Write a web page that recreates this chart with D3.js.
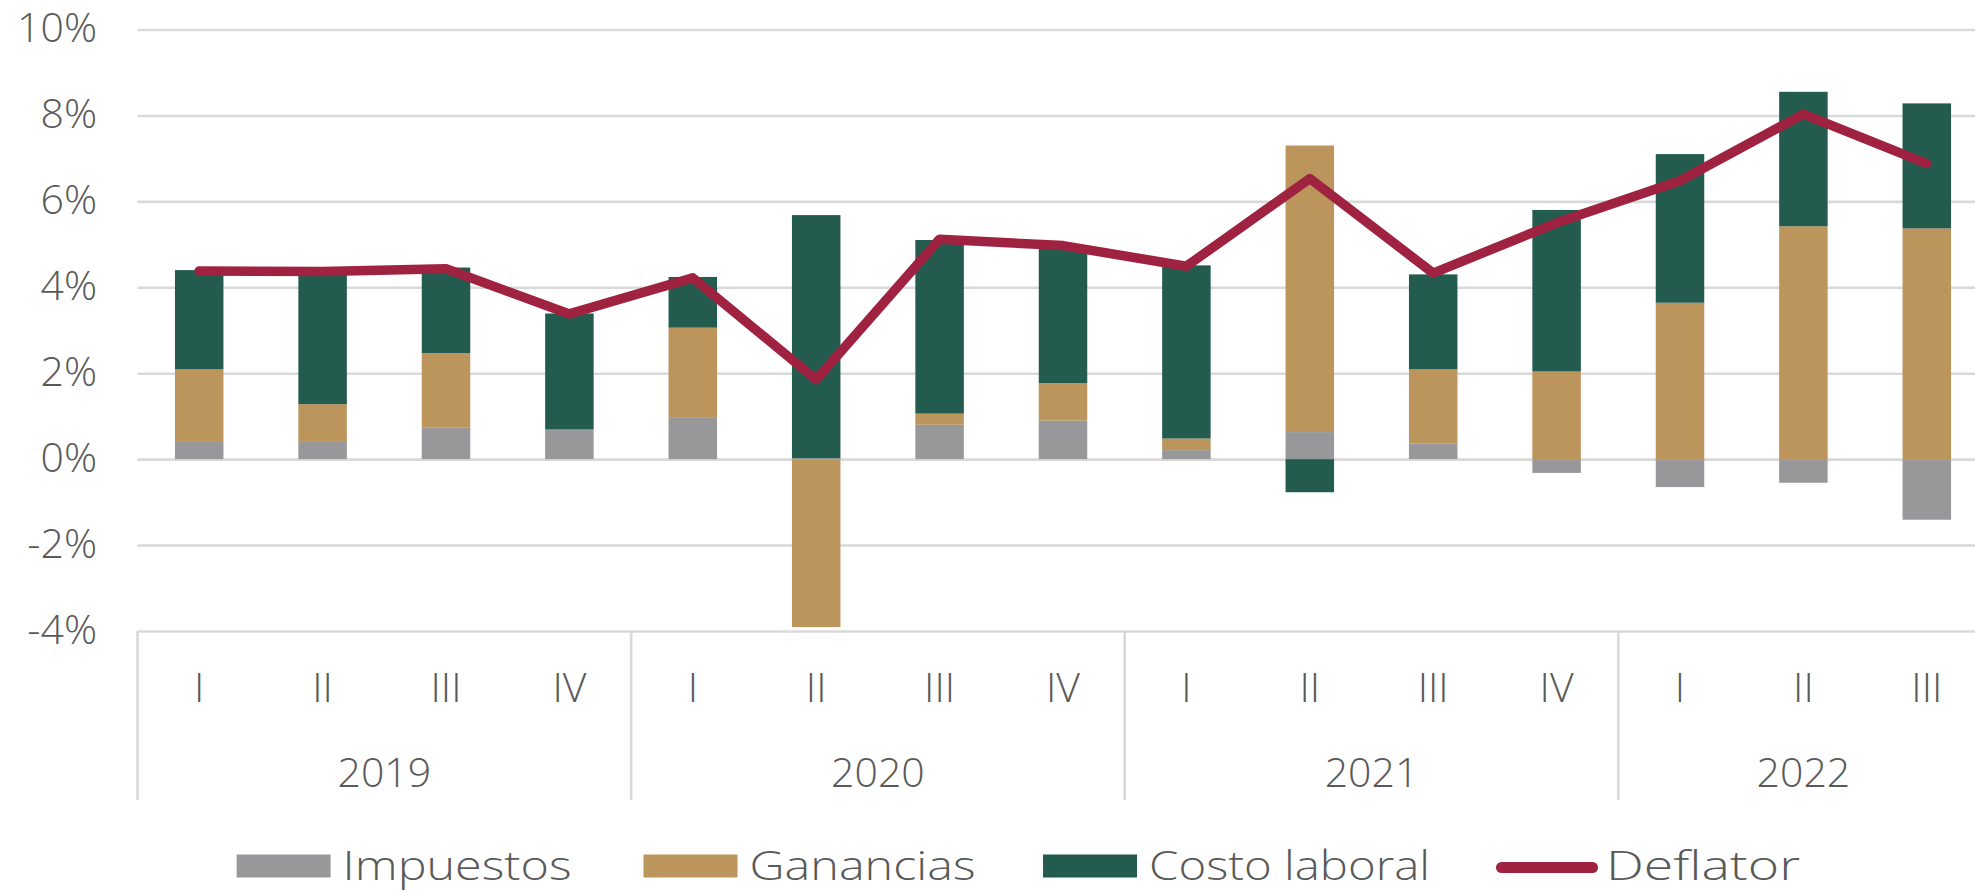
<!DOCTYPE html>
<html>
<head>
<meta charset="utf-8">
<script src="https://cdn.jsdelivr.net/npm/d3@7"></script>
<style>
  html, body { margin: 0; padding: 0; background: #fff; }
  svg text { font-family: "Open Sans", "Noto Sans", sans-serif; font-weight: 300; fill: #595959; }
</style>
</head>
<body>
<svg id="chart" width="1975" height="891"></svg>
<script>
// Quarterly contributions to the GDP deflator (percentage points)
const years = ["2019", "2020", "2021", "2022"];
const quarterLabels = ["I", "II", "III", "IV", "I", "II", "III", "IV", "I", "II", "III", "IV", "I", "II", "III"];
const quarterYear = ["2019", "2019", "2019", "2019", "2020", "2020", "2020", "2020", "2021", "2021", "2021", "2021", "2022", "2022", "2022"];
const impuestos    = [0.42, 0.42, 0.74, 0.69, 0.96, 0.02, 0.80, 0.90, 0.21, 0.63, 0.36, -0.32, -0.65, -0.55, -1.41];
const ganancias    = [1.67, 0.86, 1.73, 0.00, 2.10, -3.91, 0.26, 0.87, 0.27, 6.67, 1.73, 2.04, 3.64, 5.42, 5.37];
const costoLaboral = [2.31, 3.09, 1.99, 2.70, 1.18, 5.66, 4.04, 3.18, 4.03, -0.77, 2.21, 3.76, 3.46, 3.13, 2.91];
const deflator     = [4.38, 4.37, 4.43, 3.38, 4.22, 1.85, 5.12, 4.97, 4.49, 6.53, 4.33, 5.50, 6.48, 8.03, 6.88];
const yTicks = [-4, -2, 0, 2, 4, 6, 8, 10];

const seriesKeys = ["impuestos", "ganancias", "costoLaboral"];
const seriesNames = { impuestos: "Impuestos", ganancias: "Ganancias", costoLaboral: "Costo laboral", deflator: "Deflator" };
const colors = { impuestos: "#98989A", ganancias: "#BC955C", costoLaboral: "#235B4E", deflator: "#9F2241" };

const rows = quarterLabels.map((q, i) => ({
  idx: i, quarter: q, year: quarterYear[i],
  impuestos: impuestos[i], ganancias: ganancias[i], costoLaboral: costoLaboral[i], deflator: deflator[i]
}));

const svg = d3.select("#chart");
const plotLeft = 137.5, plotRight = 1988.5, plotTop = 29.5, plotBottom = 631;
const fontSize = 41;

const x = d3.scaleBand().domain(d3.range(rows.length)).range([plotLeft, plotRight]).padding(0);
const y = d3.scaleLinear().domain([-4, 10]).range([plotBottom, plotTop]);
const barW = x.bandwidth() * 0.393;

// horizontal gridlines + y labels
const yAxis = d3.axisLeft(y)
  .tickValues(yTicks)
  .tickSize(-(plotRight - plotLeft))
  .tickPadding(plotLeft - 97)
  .tickFormat(d => d + "%");

const gy = svg.append("g").attr("transform", `translate(${plotLeft},0)`).call(yAxis);
gy.select(".domain").remove();
gy.selectAll(".tick line").attr("stroke", "#d9d9d9").attr("stroke-width", 2.6);
gy.selectAll(".tick text")
  .attr("dy", "0.3em")
  .style("font-size", fontSize + "px");

// stacked bars (positives up, negatives down from zero)
const stacked = d3.stack().keys(seriesKeys).offset(d3.stackOffsetDiverging)(rows);

svg.append("g").selectAll("g")
  .data(stacked)
  .join("g")
  .attr("fill", d => colors[d.key])
  .selectAll("rect")
  .data(d => d)
  .join("rect")
  .attr("x", d => x(d.data.idx) + (x.bandwidth() - barW) / 2)
  .attr("width", barW)
  .attr("y", d => y(Math.max(d[0], d[1])))
  .attr("height", d => Math.abs(y(d[0]) - y(d[1])));

// deflator line
const line = d3.line()
  .x(d => x(d.idx) + x.bandwidth() / 2)
  .y(d => y(d.deflator));

svg.append("path")
  .datum(rows)
  .attr("d", line)
  .attr("fill", "none")
  .attr("stroke", colors.deflator)
  .attr("stroke-width", 9.5)
  .attr("stroke-linejoin", "round")
  .attr("stroke-linecap", "round");

// category axis: quarters and years
const xAxis = d3.axisBottom(x).tickSize(0).tickFormat(i => quarterLabels[i]);
const gx = svg.append("g").attr("transform", `translate(0,${plotBottom})`).call(xAxis);
gx.select(".domain").remove();
gx.selectAll(".tick text")
  .attr("y", 70.7)
  .attr("dy", 0)
  .style("font-size", fontSize + "px");

// year groups
const yearGroups = years.map(yr => {
  const idxs = rows.filter(r => r.year === yr).map(r => r.idx);
  return { year: yr, start: x(idxs[0]), end: x(idxs[idxs.length - 1]) + x.bandwidth() };
});

const sepX = [plotLeft].concat(yearGroups.map(g => g.end));
svg.append("g").selectAll("line")
  .data(sepX)
  .join("line")
  .attr("x1", d => d).attr("x2", d => d)
  .attr("y1", plotBottom).attr("y2", 800)
  .attr("stroke", "#d9d9d9").attr("stroke-width", 2.6);

svg.append("g").selectAll("text")
  .data(yearGroups)
  .join("text")
  .attr("x", d => (d.start + d.end) / 2)
  .attr("y", 786.7)
  .attr("text-anchor", "middle")
  .style("font-size", fontSize + "px")
  .text(d => d.year);

// legend (labels stretched to their set widths)
const legendItems = [
  { key: "impuestos", x: 236.6, type: "rect", textW: 229 },
  { key: "ganancias", x: 643.5, type: "rect", textW: 226 },
  { key: "costoLaboral", x: 1043, type: "rect", textW: 281 },
  { key: "deflator", x: 1496, type: "line", textW: 194 }
];
const lg = svg.append("g");
legendItems.forEach(it => {
  let tx;
  if (it.type === "rect") {
    lg.append("rect").attr("x", it.x).attr("y", 854.5).attr("width", 94).attr("height", 23)
      .attr("fill", colors[it.key]);
    tx = it.x + 106;
  } else {
    lg.append("line").attr("x1", it.x + 5.5).attr("x2", it.x + 96.5)
      .attr("y1", 867.5).attr("y2", 867.5)
      .attr("stroke", colors[it.key]).attr("stroke-width", 11).attr("stroke-linecap", "round");
    tx = it.x + 110;
  }
  lg.append("text").attr("x", tx).attr("y", 880)
    .attr("textLength", it.textW).attr("lengthAdjust", "spacingAndGlyphs")
    .style("font-size", fontSize + "px").text(seriesNames[it.key]);
});
</script>
</body>
</html>
